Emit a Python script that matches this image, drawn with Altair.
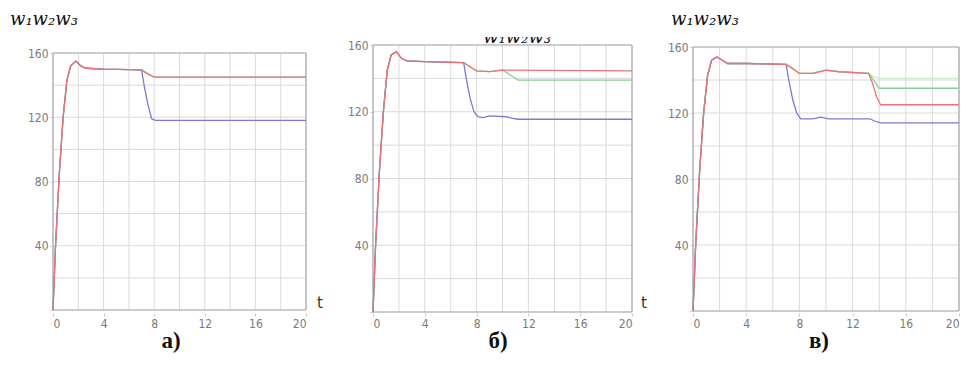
import altair as alt
import pandas as pd

# ---- data -------------------------------------------------------------
# common start-up transient (t, value) for all curves of a panel
RISE_T = [0, 0.2, 0.5, 0.8, 1.1, 1.4, 1.8, 2.2, 2.6, 4, 7]
A_RISE = [0, 40, 85, 120, 143, 152, 155, 152, 150.5, 150, 149.5]
B_RISE = [0, 40, 85, 120, 145, 154, 156, 152, 150.5, 150, 149.5]
C_RISE = [0, 40, 85, 120, 143, 152, 154, 152, 150, 150, 149.5]

# panel a)
A_RED_T = [7.5, 8, 20]
A_RED_V = [147, 145, 145]
A_GREEN_T = [7.5, 8, 20]
A_GREEN_V = [147, 145, 145]
A_BLUE_T = [7.2, 7.5, 7.8, 8.1, 20]
A_BLUE_V = [140, 128, 119, 118, 118]

# panel б)
B_RED_T = [7.5, 8, 9, 10, 20]
B_RED_V = [147, 144.5, 144, 145, 144.5]
B_GREEN_T = [7.5, 8, 9, 10, 10.6, 11.2, 20]
B_GREEN_V = [147, 144.5, 144, 145, 142, 139, 139]
B_BLUE_T = [7.2, 7.5, 7.8, 8.1, 8.5, 9, 10.3, 10.8, 11.2, 20]
B_BLUE_V = [140, 128, 120, 117, 116.5, 117.5, 117, 116, 115.5, 115.5]

# panel в)
C_RED_T = [7.5, 8, 9, 10, 11, 13.2, 13.5, 13.8, 14.1, 20]
C_RED_V = [147, 144, 144, 146, 145, 144, 138, 130, 125, 125]
C_GREEN_T = [7.5, 8, 9, 10, 11, 13.2, 13.5, 14, 20]
C_GREEN_V = [147, 144, 144, 146, 145, 144, 141, 135, 135]
C_LGREEN_T = [7.5, 8, 9, 10, 11, 13.2, 13.6, 14, 20]
C_LGREEN_V = [147, 144, 144, 146, 145, 144, 142, 141, 141]
C_BLUE_T = [7.2, 7.5, 7.8, 8.1, 9, 9.6, 10.2, 13.3, 13.7, 14.1, 20]
C_BLUE_V = [140, 128, 120, 116.5, 116.5, 117.5, 116.5, 116.5, 115, 114, 114]

X_TICKS = [0, 2, 4, 6, 8, 10, 12, 14, 16, 18, 20]
Y_TICKS = [0, 20, 40, 60, 80, 100, 120, 140, 160]
CAPTIONS = ["а)", "б)", "в)"]
TITLE = "w₁w₂w₃"

RED, BLUE, GREEN, LGREEN = "#ee7373", "#7a7ad2", "#8ccf8c", "#c9ecc9"
FRAME = "#a9abb8"
GRID = "#d9d9d9"
LABEL_FONT = "Liberation Sans Narrow, DejaVu Sans Condensed, sans-serif"

W, H = 266, 268


def panel(rise, series, xr, yr, caption, cap_x, t_x=None, title_x=None, cut_title=False):
    xs = alt.Scale(domain=[0, 20], range=xr, nice=False, zero=False)
    ys = alt.Scale(domain=[0, 160], range=yr, nice=False, zero=False)
    xaxis = alt.Axis(values=X_TICKS, labelExpr="datum.value % 4 == 0 ? datum.label : ''",
                     title=None, grid=False)
    yaxis = alt.Axis(values=Y_TICKS,
                     labelExpr="(datum.value % 40 == 0 && datum.value > 0) ? datum.label : ''",
                     title=None, grid=False)
    one = pd.DataFrame({"k": [0]})
    # grid drawn from the tick arrays through the scales
    vgrid = alt.Chart(pd.DataFrame({"g": X_TICKS})).mark_rule(color=GRID, strokeWidth=1).encode(
        x=alt.X("g:Q", scale=xs, axis=xaxis), y=alt.datum(0, scale=ys, axis=yaxis),
        y2=alt.datum(160))
    hgrid = alt.Chart(pd.DataFrame({"g": Y_TICKS})).mark_rule(color=GRID, strokeWidth=1).encode(
        y=alt.Y("g:Q"), x=alt.datum(0), x2=alt.datum(20))
    layers = []
    for ts, vs, col in series:
        df = pd.DataFrame({"t": RISE_T + ts, "v": rise + vs})
        layers.append(alt.Chart(df).mark_line(color=col, strokeWidth=1.3)
                      .encode(x=alt.X("t:Q"), y=alt.Y("v:Q")))
    frame = [
        alt.Chart(one).mark_rule(color=FRAME, strokeWidth=1.2).encode(
            x=alt.datum(0), x2=alt.datum(20), y=alt.datum(160)),
        alt.Chart(one).mark_rule(color=FRAME, strokeWidth=1.2).encode(
            x=alt.datum(0), x2=alt.datum(20), y=alt.datum(0)),
        alt.Chart(one).mark_rule(color=FRAME, strokeWidth=1.2).encode(
            y=alt.datum(0), y2=alt.datum(160), x=alt.datum(0)),
        alt.Chart(one).mark_rule(color=FRAME, strokeWidth=1.2).encode(
            y=alt.datum(0), y2=alt.datum(160), x=alt.datum(20)),
    ]
    texts = [
        alt.Chart(pd.DataFrame({"txt": [caption]})).mark_text(
            font="Liberation Serif", fontWeight="bold", fontSize=23, align="center",
            baseline="alphabetic", color="#111").encode(
            x=alt.value(cap_x), y=alt.value(303), text="txt:N"),
    ]
    if t_x is not None:
        texts.append(alt.Chart(pd.DataFrame({"txt": ["t"]})).mark_text(
            font="DejaVu Sans", fontSize=15, align="left", baseline="alphabetic",
            color="#333").encode(x=alt.value(t_x), y=alt.value(263), text="txt:N"))
    if title_x is not None:
        texts.append(alt.Chart(pd.DataFrame({"txt": [TITLE]})).mark_text(
            font="DejaVu Serif", fontStyle="italic", fontSize=18, align="left",
            baseline="alphabetic", color="#111").encode(
            x=alt.value(title_x), y=alt.value(-2 if cut_title else -20), text="txt:N"))
        if cut_title:
            texts.append(alt.Chart(one).mark_rect(color="white").encode(
                x=alt.value(title_x - 5), x2=alt.value(title_x + 90),
                y=alt.value(-28), y2=alt.value(-8)))
    return alt.layer(vgrid, hgrid, *frame, *layers, *texts).properties(width=W, height=H)


pa = panel(A_RISE, [(A_GREEN_T, A_GREEN_V, GREEN), (A_BLUE_T, A_BLUE_V, BLUE),
                    (A_RED_T, A_RED_V, RED)],
           [0, 253], [265, 8], CAPTIONS[0], 118, t_x=264, title_x=-43)
pb = panel(B_RISE, [(B_GREEN_T, B_GREEN_V, GREEN), (B_BLUE_T, B_BLUE_V, BLUE),
                    (B_RED_T, B_RED_V, RED)],
           [0, 259], [267, 0], CAPTIONS[1], 125, t_x=268, title_x=110, cut_title=True)
pc = panel(C_RISE, [(C_LGREEN_T, C_LGREEN_V, LGREEN), (C_GREEN_T, C_GREEN_V, GREEN),
                    (C_BLUE_T, C_BLUE_V, BLUE), (C_RED_T, C_RED_V, RED)],
           [0, 266], [266, 2], CAPTIONS[2], 126, title_x=-22)

chart = alt.hconcat(pa, pb, pc, spacing=54, bounds="flush").properties(
    padding={"left": 2, "top": 3, "right": 0, "bottom": 0}
).configure_view(stroke=None).configure_axis(
    domain=False, tickColor="#c8c8c8", tickSize=3, labelFont=LABEL_FONT, labelFontSize=12,
    labelColor="#7a7a7a", labelPadding=2
)

chart.save("out.html", embed_options={"renderer": "svg", "actions": False})
